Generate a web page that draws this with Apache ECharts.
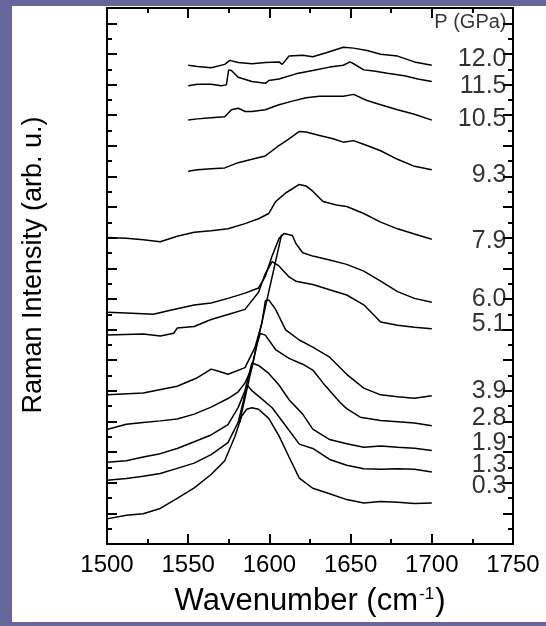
<!DOCTYPE html>
<html>
<head>
<meta charset="utf-8">
<script src="https://cdn.jsdelivr.net/npm/echarts@6/dist/echarts.min.js"></script>
<style>
html,body{margin:0;padding:0;width:546px;height:626px;background:#66669a;overflow:hidden;}
#chart{position:absolute;left:12px;top:6px;width:534px;height:616px;background:#ffffff;}
</style>
</head>
<body>
<div id="chart"></div>
<script>
// x ticks
const xTicks = [1500, 1550, 1600, 1650, 1700, 1750];

// Raman spectra, [wavenumber, offset intensity]
const c120 = [[1550,15.63],[1555.7,15.59],[1564.1,15.55],[1572.5,15.66],[1575.6,15.79],[1580.8,15.72],[1589.2,15.68],[1597.5,15.72],[1605.9,15.74],[1607.9,15.66],[1612.1,15.93],[1620.5,15.96],[1626.7,15.91],[1635.0,16.04],[1645.5,16.22],[1651.8,16.19],[1660.1,16.11],[1668.5,15.99],[1678.9,15.93],[1689.3,15.74],[1700,15.63]];
const c115 = [[1550,14.96],[1555.7,15.01],[1564.1,15.01],[1570.3,14.96],[1573.5,14.99],[1574.9,15.48],[1576.6,15.46],[1580.8,15.24],[1589.2,15.10],[1597.5,15.04],[1599.6,15.13],[1605.9,15.18],[1616.3,15.35],[1626.7,15.46],[1637.1,15.57],[1645.5,15.63],[1649.7,15.74],[1651.8,15.68],[1658.1,15.48],[1664.3,15.44],[1672.6,15.37],[1683.1,15.29],[1691.4,15.18],[1700,15.10]];
const c105 = [[1550,13.84],[1555.7,13.88],[1564.1,13.92],[1572.5,13.95],[1576.6,14.18],[1580.8,14.23],[1585,14.12],[1589.2,14.12],[1597.5,14.18],[1605.9,14.34],[1614.2,14.46],[1622.5,14.57],[1630.9,14.62],[1639.2,14.62],[1645.5,14.62],[1651.8,14.68],[1660.1,14.48],[1668.5,14.34],[1678.9,14.18],[1689.3,14.03],[1700,13.84]];
const c93 = [[1550,12.17],[1555.7,12.22],[1564.1,12.25],[1572.5,12.28],[1580.8,12.45],[1589.2,12.56],[1597.5,12.67],[1605.9,13.01],[1612.1,13.23],[1618.4,13.47],[1622.5,13.45],[1630.9,13.34],[1639.2,13.23],[1645.5,13.12],[1651.8,13.17],[1660.1,13.01],[1668.5,12.84],[1678.9,12.56],[1689.3,12.33],[1700,12.22]];
const c79 = [[1500,10.01],[1511.9,9.98],[1522.3,9.93],[1532.8,9.87],[1543.2,10.05],[1553.7,10.18],[1564.1,10.23],[1574.5,10.29],[1585,10.46],[1593.3,10.62],[1599.6,10.79],[1603.8,11.18],[1610,11.46],[1618.4,11.74],[1622.5,11.69],[1626.7,11.52],[1633,11.18],[1641.3,11.07],[1647.6,11.02],[1658.1,10.79],[1668.5,10.51],[1678.9,10.29],[1689.3,10.12],[1700,9.95]];
const c60 = [[1500,7.57],[1511.9,7.54],[1528.6,7.50],[1539,7.63],[1553.7,7.80],[1564.1,7.87],[1574.5,8.02],[1585,8.19],[1593.3,8.36],[1597.5,8.74],[1601.7,9.41],[1605.9,9.97],[1609,10.14],[1614.2,10.07],[1616.3,9.81],[1620.5,9.51],[1626.7,9.40],[1637.1,9.27],[1647.6,9.13],[1658.1,8.91],[1668.5,8.58],[1678.9,8.24],[1689.3,8.02],[1700,7.89]];
const c51 = [[1500,6.82],[1522.3,6.86],[1532.8,6.79],[1541.1,6.88],[1543.2,7.05],[1553.7,7.10],[1564.1,7.33],[1574.5,7.49],[1585,7.66],[1593.3,8.22],[1597.5,8.83],[1601.7,9.22],[1605.9,9.08],[1612.1,8.72],[1616.3,8.58],[1626.7,8.47],[1637.1,8.30],[1647.6,8.13],[1658.1,7.81],[1668.5,7.25],[1678.9,7.14],[1689.3,7.08],[1700,7.03]];
const c39 = [[1500,4.87],[1522.3,4.93],[1543.2,5.15],[1555.7,5.43],[1564.1,5.71],[1568.3,5.65],[1574.5,5.54],[1585,5.76],[1591.2,6.43],[1595.4,7.22],[1597.5,7.94],[1599.6,7.97],[1603.8,7.66],[1610,6.99],[1618.4,6.66],[1626.7,6.43],[1637.1,6.10],[1647.6,5.54],[1658.1,5.09],[1668.5,4.87],[1678.9,4.81],[1689.3,4.76],[1700,4.84]];
const c28 = [[1500,3.74],[1511.9,3.91],[1522.3,3.97],[1532.8,4.02],[1543.2,4.08],[1553.7,4.24],[1564.1,4.47],[1574.5,4.75],[1580.8,4.97],[1585,5.26],[1589.2,5.75],[1592.3,6.53],[1594.4,6.87],[1597.5,6.82],[1603.8,6.35],[1612.1,6.06],[1620.5,5.87],[1626.7,5.68],[1633,5.26],[1643.4,4.63],[1647.6,4.42],[1655.9,4.14],[1668.5,4.03],[1678.9,3.99],[1689.3,3.95],[1700,3.86]];
const c19 = [[1500,2.67],[1511.9,2.72],[1522.3,2.84],[1532.8,2.95],[1543.2,3.12],[1553.7,3.34],[1564.1,3.56],[1574.5,3.90],[1580.8,4.46],[1585,5.01],[1587.1,5.46],[1589.2,5.91],[1593.3,5.83],[1599.6,5.57],[1605.9,5.19],[1612.1,4.71],[1620.5,4.24],[1626.7,3.75],[1637.1,3.41],[1647.6,3.27],[1658.1,3.16],[1668.5,3.20],[1678.9,3.16],[1689.3,3.13],[1700,3.05]];
const c13 = [[1500,2.08],[1511.9,2.14],[1522.3,2.21],[1532.8,2.30],[1543.2,2.47],[1553.7,2.64],[1564.1,2.92],[1574.5,3.31],[1580.8,3.98],[1583.9,4.65],[1586,5.21],[1589.2,5.01],[1593.3,4.83],[1601.7,4.45],[1610,3.86],[1618.4,3.26],[1626.7,3.12],[1637.1,2.76],[1647.6,2.57],[1658.1,2.46],[1668.5,2.44],[1678.9,2.46],[1689.3,2.44],[1700,2.35]];
const c03 = [[1500,0.82],[1511.9,0.94],[1522.3,0.99],[1532.8,1.16],[1543.2,1.49],[1553.7,1.83],[1564.1,2.27],[1572.5,2.72],[1578.7,3.50],[1582.9,4.17],[1586,4.40],[1589.2,4.45],[1593.3,4.40],[1599.6,4.10],[1605.9,3.53],[1612.1,2.84],[1618.4,2.15],[1626.7,1.82],[1637.1,1.64],[1647.6,1.45],[1658.1,1.34],[1668.5,1.39],[1678.9,1.36],[1689.3,1.32],[1700,1.34]];

// guide line through the peak positions
const guide = [[1581.5,3.95],[1607.5,10.1]];

// pressure labels
const pressureLabels = ['P (GPa)','12.0','11.5','10.5','9.3','7.9','6.0','5.1','3.9','2.8','1.9','1.3','0.3'];
const labelY = [17.02,15.83,14.95,13.88,12.03,9.90,7.99,7.18,4.98,4.12,3.30,2.59,1.88];
const labelX = 1746;

const curves = [c120,c115,c105,c93,c79,c60,c51,c39,c28,c19,c13,c03];

const FONT = 'Liberation Sans, Arial, Helvetica, sans-serif';
const chart = echarts.init(document.getElementById('chart'), null, {renderer:'canvas'});

const axisCommon = {
  axisLine:{show:true,onZero:false,lineStyle:{color:'#000',width:2}},
  axisTick:{show:true,inside:true,length:10,lineStyle:{color:'#000',width:2}},
  minorTick:{show:true,splitNumber:2,length:5,lineStyle:{color:'#000',width:2}},
  splitLine:{show:false},
  minorSplitLine:{show:false}
};

const series = curves.map(c => ({
  type:'line', data:c, showSymbol:false, symbol:'none',
  lineStyle:{color:'#000',width:1.5}, silent:true, animation:false
}));
series.push({type:'line', data:guide, showSymbol:false, symbol:'none',
  lineStyle:{color:'#000',width:1.5}, silent:true, animation:false});
series.push({
  type:'scatter', symbolSize:0, silent:true, animation:false,
  data: pressureLabels.map((t,i)=>({value:[labelX,labelY[i]], name:t,
    label: i===0 ? {fontSize:20} : {}})),
  label:{show:true, position:'left', distance:0, formatter:p=>p.name,
    color:'#000', fontSize:25, fontFamily:FONT}
});

chart.setOption({
  animation:false,
  backgroundColor:'#ffffff',
  grid:{left:89, top:2, right:33, bottom:73, containLabel:false},
  xAxis:[
    Object.assign({type:'value', position:'bottom', min:1500, max:1750, interval:50,
      axisLabel:{show:true, color:'#000', fontSize:24, fontFamily:FONT, margin:9,
        formatter:v=> xTicks.indexOf(v)>=0 ? String(v) : ''},
      name:'Wavenumber (cm{sup|-1})', nameLocation:'middle', nameGap:42,
      nameTextStyle:{color:'#000', fontSize:31, fontFamily:FONT,
        rich:{sup:{fontSize:17, fontFamily:FONT, color:'#000', verticalAlign:'top', padding:[0,1,14,1]}}}
    }, axisCommon),
    Object.assign({type:'value', position:'top', min:1500, max:1750, interval:50,
      axisLabel:{show:false}}, axisCommon)
  ],
  yAxis:[
    Object.assign({type:'value', position:'left', min:0, max:17.5, interval:1,
      axisLabel:{show:false},
      name:'Raman Intensity (arb. u.)', nameLocation:'middle', nameGap:60, nameRotate:90,
      nameTextStyle:{color:'#000', fontSize:27, fontFamily:FONT, padding:[0,0,0,22]}
    }, axisCommon),
    Object.assign({type:'value', position:'right', min:0, max:17.5, interval:1,
      axisLabel:{show:false}}, axisCommon)
  ],
  series:series
});
</script>
</body>
</html>
